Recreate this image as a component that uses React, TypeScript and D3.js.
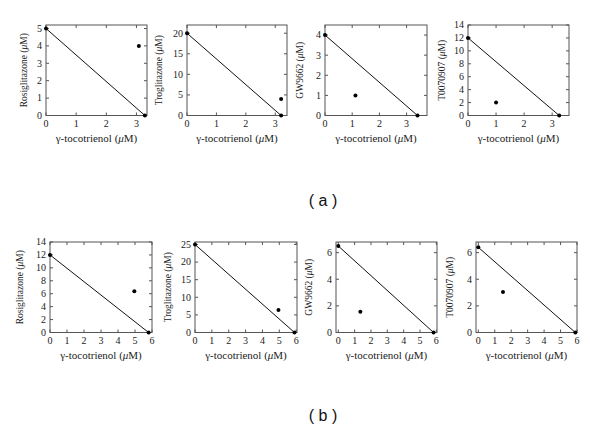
import React from 'react';
import * as d3 from 'd3';

// drug on the y axis of each column
const drugs = ["Rosiglitazone", "Troglitazone", "GW9662", "T0070907"];

// row (a): isobologram line from (0, yIntercept) to (xIntercept, 0) and the measured point
const aYIntercepts = [5, 20, 4, 12];
const aXIntercepts = [3.28, 3.2, 3.4, 3.25];
const aPointX = [3.08, 3.2, 1.12, 1.0];
const aPointY = [4, 4, 1, 2];
const aXTicks = [0, 1, 2, 3];
const aYTicks = [
  [0, 1, 2, 3, 4, 5],
  [0, 5, 10, 15, 20],
  [0, 1, 2, 3, 4],
  [0, 2, 4, 6, 8, 10, 12, 14],
];

// row (b)
const bYIntercepts = [12, 25, 6.5, 6.4];
const bXIntercepts = [5.8, 5.9, 5.83, 5.9];
const bPointX = [4.96, 4.95, 1.35, 1.5];
const bPointY = [6.4, 6.4, 1.55, 3.05];
const bXTicks = [0, 1, 2, 3, 4, 5, 6];
const bYTicks = [
  [0, 2, 4, 6, 8, 10, 12, 14],
  [0, 5, 10, 15, 20, 25],
  [0, 2, 4, 6],
  [0, 2, 4, 6],
];

// layout of the plot boxes (pixels) and the scale domains
const rowA = {
  top: 25, bottom: 115.5, label: "( a )", labelY: 206,
  lefts: [46, 187, 325, 468], rights: [147, 287, 427, 569],
  titleOff: [19, 25, 22, 23],
  xDom: [[0, 3.35], [0, 3.4], [0, 3.75], [0, 3.6]],
  yDom: [[0, 5.2], [0, 22], [0, 4.5], [0, 14]],
};
const rowB = {
  top: 242, bottom: 332.5, label: "( b )", labelY: 421,
  lefts: [50, 195, 336, 476], rights: [152, 297, 437, 577],
  titleOff: [27, 24, 24, 23],
  xDom: [[0, 6], [0, 6.05], [-0.14, 6.04], [-0.14, 6]],
  yDom: [[0, 14], [0, 25.7], [0, 6.8], [0, 6.8]],
};

const serif = "'Liberation Serif', 'DejaVu Serif', serif";

const Panel = ({ i, row, yInt, xInt, px, py, xTicks, yTicks }) => {
  const left = row.lefts[i];
  const right = row.rights[i];
  const x = d3.scaleLinear().domain(row.xDom[i]).range([left, right]);
  const y = d3.scaleLinear().domain(row.yDom[i]).range([row.bottom, row.top]);
  const line = d3.line<[number, number]>().x(d => x(d[0])).y(d => y(d[1]));
  const tk = 3; // inward tick length
  const midY = (row.top + row.bottom) / 2;
  return (
    <g>
      <rect x={left} y={row.top} width={right - left} height={row.bottom - row.top}
        fill="none" stroke="#555" strokeWidth={1} />
      {xTicks.map(v => (
        <g key={"x" + v}>
          <line x1={x(v)} x2={x(v)} y1={row.bottom} y2={row.bottom - tk} stroke="#555" />
          <line x1={x(v)} x2={x(v)} y1={row.top} y2={row.top + tk} stroke="#555" />
          <text x={x(v)} y={row.bottom + 11.5} textAnchor="middle" fontSize={10}
            fontFamily={serif} fill="#222">{v}</text>
        </g>
      ))}
      {yTicks.map(v => (
        <g key={"y" + v}>
          <line x1={left} x2={left + tk} y1={y(v)} y2={y(v)} stroke="#555" />
          <line x1={right} x2={right - tk} y1={y(v)} y2={y(v)} stroke="#555" />
          <text x={left - 4} y={y(v) + 3.4} textAnchor="end" fontSize={10}
            fontFamily={serif} fill="#222">{v}</text>
        </g>
      ))}
      <path d={line([[0, yInt], [xInt, 0]]) ?? ""} fill="none" stroke="#111" strokeWidth={1} />
      <circle cx={x(0)} cy={y(yInt)} r={2} fill="#000" />
      <circle cx={x(xInt)} cy={y(0)} r={2} fill="#000" />
      <circle cx={x(px)} cy={y(py)} r={2} fill="#000" />
      <text x={(left + right) / 2} y={row.bottom + 26} textAnchor="middle" fontSize={11}
        fontFamily={serif} fill="#222">
        γ-tocotrienol (<tspan fontStyle="italic">μ</tspan>M)
      </text>
      <text transform={`translate(${left - row.titleOff[i]}, ${midY}) rotate(-90)`}
        textAnchor="middle" fontSize={9.5} fontFamily={serif} fill="#222">
        {drugs[i]} (<tspan fontStyle="italic">μ</tspan>M)
      </text>
    </g>
  );
};

export default function App() {
  return (
    <svg width={600} height={435} style={{ position: "absolute", left: 0, top: 0, background: "#fff" }}>
      <rect width={600} height={435} fill="#fff" />
      {drugs.map((d, i) => (
        <Panel key={"a" + d} i={i} row={rowA} yInt={aYIntercepts[i]} xInt={aXIntercepts[i]}
          px={aPointX[i]} py={aPointY[i]} xTicks={aXTicks} yTicks={aYTicks[i]} />
      ))}
      {drugs.map((d, i) => (
        <Panel key={"b" + d} i={i} row={rowB} yInt={bYIntercepts[i]} xInt={bXIntercepts[i]}
          px={bPointX[i]} py={bPointY[i]} xTicks={bXTicks} yTicks={bYTicks[i]} />
      ))}
      <text x={323} y={rowA.labelY} textAnchor="middle" fontSize={16}
        fontFamily="'Liberation Sans', Arial, sans-serif" fill="#111">{rowA.label}</text>
      <text x={323} y={rowB.labelY} textAnchor="middle" fontSize={16}
        fontFamily="'Liberation Sans', Arial, sans-serif" fill="#111">{rowB.label}</text>
    </svg>
  );
}
